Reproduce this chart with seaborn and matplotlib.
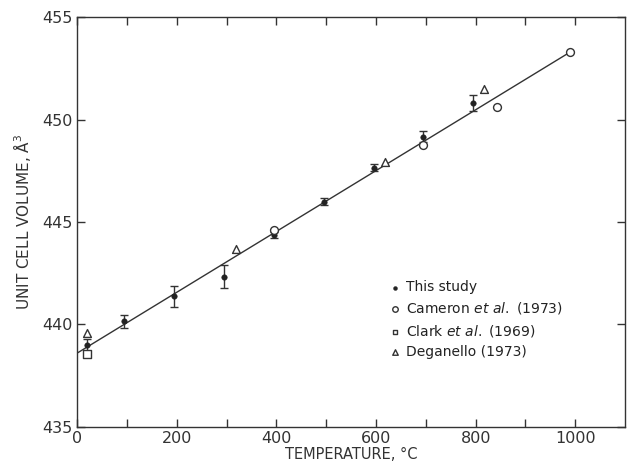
import matplotlib
matplotlib.use("Agg")
import matplotlib.pyplot as plt
import seaborn as sns
import pandas as pd

# This study (filled circles with error bars)
study_T = [20, 95, 195, 295, 395, 495, 595, 695, 795]
study_V = [439.0, 440.15, 441.37, 442.34, 444.35, 446.0, 447.66, 449.17, 450.8]
study_err = [0.3, 0.33, 0.5, 0.55, 0.15, 0.15, 0.15, 0.25, 0.4]

# Cameron et al. (1973) (open circles)
cam_T = [395, 695, 842, 990]
cam_V = [444.63, 448.76, 450.6, 453.3]

# Clark et al. (1969) (open squares)
clark_T = [20]
clark_V = [438.54]

# Deganello (1973) (open triangles)
deg_T = [20, 318, 618, 816]
deg_V = [439.56, 443.66, 447.95, 451.5]

# fitted line
line_T = [0, 990]
line_V = [438.6, 453.3]

x_ticks = [0, 200, 400, 600, 800, 1000]
y_ticks = [435, 440, 445, 450, 455]

sns.set_style("ticks")
plt.rcParams['font.family'] = ['DejaVu Sans']

fig = plt.figure(figsize=(6.27, 4.63), dpi=100)
ax = fig.add_axes([0.123, 0.078, 0.874, 0.885])

sns.lineplot(x=line_T, y=line_V, ax=ax, color="#333333", lw=1.0)

ax.errorbar(study_T, study_V, yerr=study_err, fmt="none", ecolor="#333333",
            elinewidth=1.0, capsize=3, capthick=1.0, zorder=3)

sns.scatterplot(x=study_T, y=study_V, ax=ax, marker="o", s=16, color="#222222",
                edgecolor="#222222", label="This study", zorder=4)
sns.scatterplot(x=cam_T, y=cam_V, ax=ax, marker="o", s=32, facecolor="white",
                edgecolor="#333333", linewidth=1.0,
                label=r"Cameron $\it{et\ al.}$ (1973)", zorder=4)
sns.scatterplot(x=clark_T, y=clark_V, ax=ax, marker="s", s=26, facecolor="white",
                edgecolor="#333333", linewidth=1.0,
                label=r"Clark $\it{et\ al.}$ (1969)", zorder=4)
sns.scatterplot(x=deg_T, y=deg_V, ax=ax, marker="^", s=32, facecolor="white",
                edgecolor="#333333", linewidth=1.0,
                label="Deganello (1973)", zorder=4)

ax.set_xlim(0, 1100)
ax.set_ylim(435, 455)
ax.set_xticks(x_ticks)
ax.set_xticks(range(100, 1100, 200), minor=True)
ax.set_yticks(y_ticks)
ax.tick_params(axis="both", which="both", direction="in", top=True, right=True,
               length=6, width=1.0, colors="#333333", labelsize=11.5, pad=3)
for s in ax.spines.values():
    s.set_color("#333333")
    s.set_linewidth(1.0)

ax.set_xlabel("TEMPERATURE, °C", fontsize=10.5, color="#333333", labelpad=1)
ax.set_ylabel("UNIT CELL VOLUME, Å$^3$", fontsize=11, color="#333333", labelpad=7)

leg = ax.legend(loc="center left", bbox_to_anchor=(0.545, 0.262), frameon=False,
                fontsize=10, handletextpad=0.3, labelspacing=0.45,
                handlelength=1.0, markerscale=0.7)
for t in leg.get_texts():
    t.set_color("#222222")

fig.savefig("out.png", dpi=100)
